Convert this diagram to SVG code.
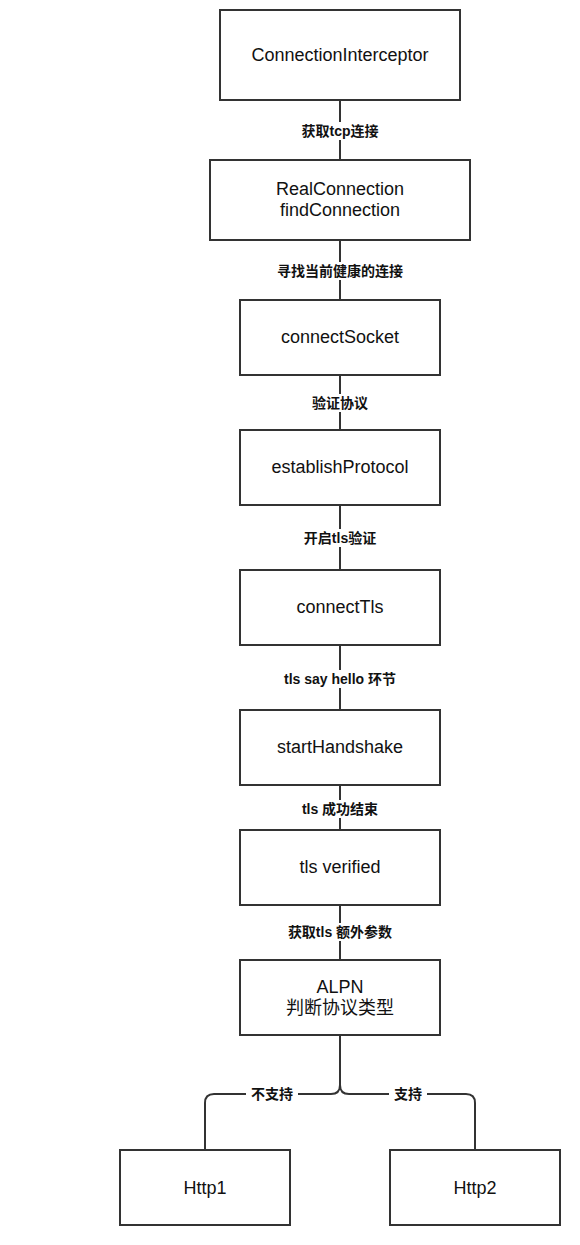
<svg xmlns="http://www.w3.org/2000/svg" width="580" height="1245" viewBox="0 0 580 1245">
<style>
.box{fill:#fff;stroke:#333;stroke-width:2}
.t{font-family:"Liberation Sans","Noto Sans CJK SC",sans-serif;font-size:18px;fill:#111;text-anchor:middle;dominant-baseline:central}
.e{fill:none;stroke:#333;stroke-width:2}
.lb{fill:#fff}
.l{font-family:"Liberation Sans","Noto Sans CJK SC",sans-serif;font-size:14px;font-weight:bold;fill:#111;text-anchor:middle;dominant-baseline:central}
</style>
<rect width="580" height="1245" fill="#fff"/>
<g id="connectors">
<path class="e" d="M340 100V160"/>
<path class="e" d="M340 240V300"/>
<path class="e" d="M340 375V430"/>
<path class="e" d="M340 505V570"/>
<path class="e" d="M340 645V710"/>
<path class="e" d="M340 785V830"/>
<path class="e" d="M340 905V960"/>
<path class="e" d="M340 1035V1085Q340 1094 331 1094H214Q205 1094 205 1103V1150"/>
<path class="e" d="M340 1035V1085Q340 1094 349 1094H466Q475 1094 475 1103V1150"/>
<rect class="lb" x="296" y="122" width="88" height="18"/>
<text class="l" x="340" y="131">获取tcp连接</text>
<rect class="lb" x="272" y="262" width="136" height="18"/>
<text class="l" x="340" y="271">寻找当前健康的连接</text>
<rect class="lb" x="308" y="394" width="64" height="18"/>
<text class="l" x="340" y="403">验证协议</text>
<rect class="lb" x="298" y="529" width="84" height="18"/>
<text class="l" x="340" y="538">开启tls验证</text>
<rect class="lb" x="279" y="670" width="122" height="18"/>
<text class="l" x="340" y="679">tls say hello 环节</text>
<rect class="lb" x="298" y="800" width="84" height="18"/>
<text class="l" x="340" y="809">tls 成功结束</text>
<rect class="lb" x="283" y="923" width="114" height="18"/>
<text class="l" x="340" y="932">获取tls 额外参数</text>
<rect class="lb" x="246" y="1085" width="52" height="18"/>
<text class="l" x="272" y="1094">不支持</text>
<rect class="lb" x="389" y="1085" width="38" height="18"/>
<text class="l" x="408" y="1094">支持</text>
</g>
<g id="n1"><rect class="box" x="220" y="10" width="240" height="90"/><text class="t" x="340" y="55">ConnectionInterceptor</text></g>
<g id="n2"><rect class="box" x="210" y="160" width="260" height="80"/><text class="t" x="340" y="189">RealConnection</text><text class="t" x="340" y="210">findConnection</text></g>
<g id="n3"><rect class="box" x="240" y="300" width="200" height="75"/><text class="t" x="340" y="337">connectSocket</text></g>
<g id="n4"><rect class="box" x="240" y="430" width="200" height="75"/><text class="t" x="340" y="467">establishProtocol</text></g>
<g id="n5"><rect class="box" x="240" y="570" width="200" height="75"/><text class="t" x="340" y="607">connectTls</text></g>
<g id="n6"><rect class="box" x="240" y="710" width="200" height="75"/><text class="t" x="340" y="747">startHandshake</text></g>
<g id="n7"><rect class="box" x="240" y="830" width="200" height="75"/><text class="t" x="340" y="867">tls verified</text></g>
<g id="n8"><rect class="box" x="240" y="960" width="200" height="75"/><text class="t" x="340" y="987">ALPN</text><text class="t" x="340" y="1008">判断协议类型</text></g>
<g id="n9"><rect class="box" x="120" y="1150" width="170" height="75"/><text class="t" x="205" y="1188">Http1</text></g>
<g id="n10"><rect class="box" x="390" y="1150" width="170" height="75"/><text class="t" x="475" y="1188">Http2</text></g>
</svg>
